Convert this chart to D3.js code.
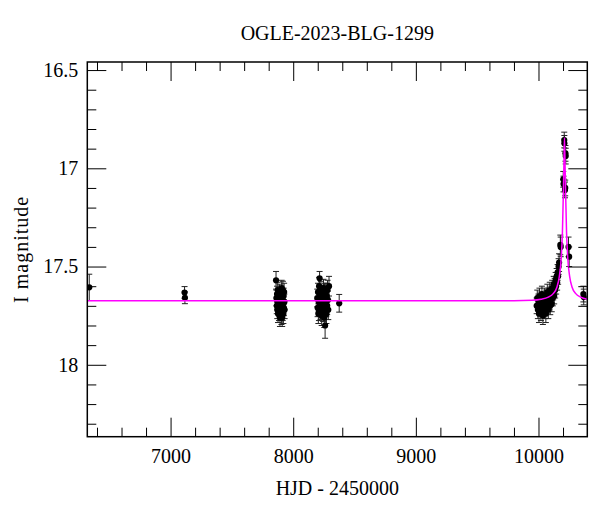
<!DOCTYPE html>
<html>
<head>
<meta charset="utf-8">
<script src="https://cdn.jsdelivr.net/npm/d3@7"></script>
<style>
  body { margin: 0; background: #fff; }
  svg text { font-family: "Liberation Serif", "Times New Roman", serif; fill: #000; }
</style>
</head>
<body>
<svg id="chart" width="600" height="512"></svg>
<script>
// photometry, [HJD-2450000, I mag, error] per observing season
const season2013 = [[6337, 17.606, 0.067]]
const season2015 = [[7114, 17.632, 0.03], [7117, 17.659, 0.03]]
const season2017 = [
  [7860, 17.57, 0.045], [7863, 17.66, 0.04], [7866, 17.70, 0.04], [7868, 17.64, 0.04],
  [7870, 17.72, 0.045], [7872, 17.68, 0.04], [7874, 17.62, 0.04], [7876, 17.74, 0.045],
  [7878, 17.67, 0.04], [7880, 17.70, 0.04], [7882, 17.65, 0.04], [7884, 17.73, 0.045],
  [7886, 17.69, 0.04], [7888, 17.63, 0.04], [7890, 17.71, 0.045], [7892, 17.76, 0.045],
  [7894, 17.66, 0.04], [7896, 17.68, 0.04], [7898, 17.72, 0.045], [7900, 17.64, 0.04],
  [7902, 17.69, 0.04], [7904, 17.75, 0.045], [7906, 17.61, 0.04], [7908, 17.70, 0.04],
  [7910, 17.76, 0.045], [7912, 17.67, 0.04], [7914, 17.73, 0.045], [7916, 17.62, 0.045],
  [7918, 17.69, 0.04], [7920, 17.74, 0.05], [7922, 17.65, 0.04], [7924, 17.71, 0.04],
  [7926, 17.63, 0.045], [7928, 17.68, 0.04], [7930, 17.72, 0.045]
]
const season2018 = [
  [8196, 17.66, 0.045], [8199, 17.71, 0.045], [8202, 17.63, 0.045], [8205, 17.74, 0.05],
  [8208, 17.68, 0.045], [8210, 17.73, 0.045], [8211, 17.60, 0.045], [8215, 17.56, 0.035],
  [8217, 17.70, 0.045], [8220, 17.65, 0.045], [8223, 17.72, 0.05], [8225, 17.69, 0.045],
  [8226, 17.62, 0.045], [8229, 17.68, 0.045], [8232, 17.75, 0.05], [8235, 17.66, 0.045],
  [8238, 17.70, 0.045], [8240, 17.67, 0.045], [8241, 17.64, 0.045], [8244, 17.73, 0.05],
  [8247, 17.61, 0.045], [8250, 17.69, 0.045], [8253, 17.76, 0.05], [8255, 17.63, 0.045],
  [8256, 17.67, 0.045], [8260, 17.80, 0.065], [8262, 17.71, 0.045], [8265, 17.63, 0.045],
  [8268, 17.68, 0.045], [8270, 17.71, 0.045], [8271, 17.74, 0.05], [8274, 17.65, 0.045],
  [8277, 17.70, 0.045], [8280, 17.62, 0.05], [8283, 17.67, 0.045], [8286, 17.72, 0.05],
  [8292, 17.60, 0.05]
]
const season2018b = [[8375, 17.687, 0.045]]
const season2023 = [
  [9985, 17.70, 0.04], [9990, 17.66, 0.04], [9995, 17.72, 0.045], [10000, 17.68, 0.04],
  [10004, 17.74, 0.045], [10008, 17.65, 0.04], [10012, 17.70, 0.04], [10016, 17.67, 0.04],
  [10020, 17.73, 0.045], [10024, 17.69, 0.04], [10028, 17.64, 0.04], [10032, 17.71, 0.045],
  [10036, 17.75, 0.045], [10040, 17.67, 0.04], [10044, 17.70, 0.04], [10048, 17.65, 0.04],
  [10052, 17.72, 0.045], [10056, 17.68, 0.04], [10060, 17.74, 0.045], [10064, 17.66, 0.04],
  [10068, 17.70, 0.04], [10072, 17.63, 0.04], [10076, 17.69, 0.04], [10080, 17.72, 0.045],
  [10084, 17.65, 0.04], [10088, 17.68, 0.04], [10092, 17.62, 0.04], [10096, 17.70, 0.045],
  [10100, 17.66, 0.04], [10104, 17.64, 0.04], [10108, 17.69, 0.04], [10112, 17.61, 0.04],
  [10116, 17.66, 0.04], [10120, 17.63, 0.04], [10124, 17.59, 0.04], [10128, 17.65, 0.04],
  [10132, 17.60, 0.04], [10136, 17.62, 0.04], [10140, 17.57, 0.04], [10144, 17.60, 0.04],
  [10148, 17.55, 0.04], [10152, 17.58, 0.04], [10156, 17.53, 0.04], [10160, 17.55, 0.04],
  [10164, 17.50, 0.04], [10168, 17.48, 0.045], [10178, 17.39, 0.05], [10181, 17.40, 0.05],
  [10202, 17.056, 0.04], [10204, 17.08, 0.04], [10210, 16.856, 0.04], [10211, 16.873, 0.04],
  [10220, 16.924, 0.04], [10222, 16.938, 0.04], [10218, 17.10, 0.04], [10216, 17.11, 0.04],
  [10245, 17.40, 0.05], [10250, 17.45, 0.05]
]
const season2024 = [[10366, 17.64, 0.04], [10369, 17.655, 0.04]]

// fitted microlensing model
const modelT   = [6321, 9800, 9950, 10020, 10080, 10120, 10150, 10170, 10185, 10195, 10203, 10208, 10212,
                  10216, 10221, 10229, 10239, 10254, 10274, 10304, 10344, 10398]
const modelMag = [17.674, 17.674, 17.672, 17.667, 17.656, 17.638, 17.605, 17.55, 17.46, 17.33, 17.12, 16.96, 16.845,
                  16.96, 17.12, 17.33, 17.46, 17.55, 17.605, 17.638, 17.656, 17.667]

const xMajor = [7000, 8000, 9000, 10000]
const yMajor = [16.5, 17, 17.5, 18]
const title = "OGLE-2023-BLG-1299"
const xLabel = "HJD - 2450000"
const yLabel = "I magnitude"

const points = [...season2013, ...season2015, ...season2017, ...season2018, ...season2018b, ...season2023, ...season2024]

const box = {left: 87.3, right: 587.3, top: 62, bottom: 436.7}

const x = d3.scaleLinear().domain([6321, 10398]).range([box.left, box.right])
const y = d3.scaleLinear().domain([16.459, 18.366]).range([box.top, box.bottom])

const xMinor = d3.range(6400, 10400, 200).filter(v => v % 1000 !== 0)
const yMinor = d3.range(16.5, 18.35, 0.1).map(v => +v.toFixed(1)).filter(v => !yMajor.includes(v))

const svg = d3.select("#chart")

svg.append("defs").append("clipPath").attr("id", "clip")
  .append("rect")
    .attr("x", box.left).attr("y", box.top)
    .attr("width", box.right - box.left).attr("height", box.bottom - box.top)

const plot = svg.append("g").attr("clip-path", "url(#clip)")

// error bars
const bars = plot.append("g").attr("stroke", "#222").attr("stroke-width", 1)
points.forEach(d => {
  const cx = x(d[0])
  bars.append("line")
    .attr("x1", cx).attr("x2", cx)
    .attr("y1", y(d[1] - d[2])).attr("y2", y(d[1] + d[2]))
  ;[d[1] - d[2], d[1] + d[2]].forEach(m => {
    bars.append("line")
      .attr("x1", cx - 3).attr("x2", cx + 3)
      .attr("y1", y(m)).attr("y2", y(m))
  })
})

plot.append("g").selectAll("circle")
    .data(points)
  .enter().append("circle")
    .attr("cx", d => x(d[0]))
    .attr("cy", d => y(d[1]))
    .attr("r", 3.1)
    .attr("fill", "#000")

const model = d3.line()
    .curve(d3.curveMonotoneX)
    .x((d, i) => x(modelT[i]))
    .y(d => y(d))

plot.append("path")
    .attr("d", model(modelMag))
    .attr("fill", "none")
    .attr("stroke", "#ff00ff")
    .attr("stroke-width", 1.5)

// axes, ticks pointing inward
const axisGroup = (axis, tx, ty) => {
  const g = svg.append("g")
      .attr("transform", `translate(${tx},${ty})`)
      .call(axis)
  g.select(".domain").remove()
  g.selectAll(".tick line").attr("stroke", "#000")
  g.selectAll("text").attr("font-size", 20).attr("font-family", "Liberation Serif, serif")
  return g
}

axisGroup(d3.axisBottom(x).tickValues(xMajor).tickSize(-19).tickPadding(12).tickFormat(d3.format("d")), 0, box.bottom)
axisGroup(d3.axisBottom(x).tickValues(xMinor).tickSize(-9).tickFormat(""), 0, box.bottom)
axisGroup(d3.axisTop(x).tickValues(xMajor).tickSize(-19).tickFormat(""), 0, box.top)
axisGroup(d3.axisTop(x).tickValues(xMinor).tickSize(-9).tickFormat(""), 0, box.top)
axisGroup(d3.axisLeft(y).tickValues(yMajor).tickSize(-19).tickPadding(9).tickFormat(d => d), box.left, 0)
axisGroup(d3.axisLeft(y).tickValues(yMinor).tickSize(-9).tickFormat(""), box.left, 0)
axisGroup(d3.axisRight(y).tickValues(yMajor).tickSize(-19).tickFormat(""), box.right, 0)
axisGroup(d3.axisRight(y).tickValues(yMinor).tickSize(-9).tickFormat(""), box.right, 0)

svg.append("rect")
    .attr("x", box.left).attr("y", box.top)
    .attr("width", box.right - box.left).attr("height", box.bottom - box.top)
    .attr("fill", "none")
    .attr("stroke", "#000")
    .attr("stroke-width", 1.5)

svg.append("text")
    .attr("x", (box.left + box.right) / 2).attr("y", 40)
    .attr("text-anchor", "middle")
    .attr("font-size", 20)
    .text(title)

svg.append("text")
    .attr("x", (box.left + box.right) / 2).attr("y", 495)
    .attr("text-anchor", "middle")
    .attr("font-size", 20)
    .text(xLabel)

svg.append("text")
    .attr("transform", `translate(28,${(box.top + box.bottom) / 2}) rotate(-90)`)
    .attr("text-anchor", "middle")
    .attr("font-size", 20)
    .attr("letter-spacing", 1)
    .text(yLabel)
</script>
</body>
</html>
